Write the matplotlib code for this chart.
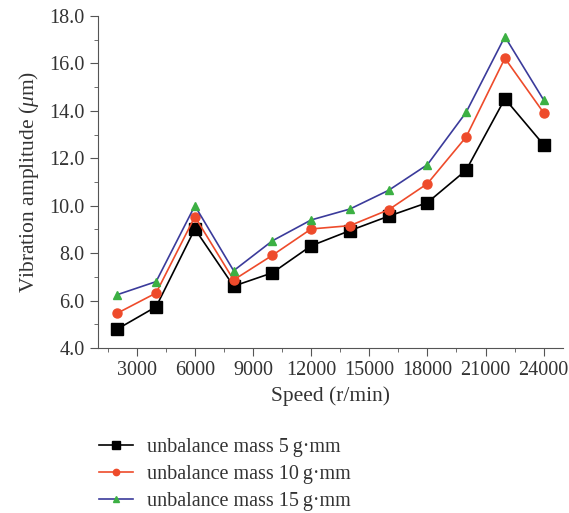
import matplotlib.pyplot as plt
from matplotlib.ticker import MultipleLocator

plt.rcParams['font.family'] = ['Liberation Serif', 'DejaVu Serif']
plt.rcParams['mathtext.fontset'] = 'custom'
plt.rcParams['mathtext.it'] = 'Liberation Serif:italic'
plt.rcParams['mathtext.rm'] = 'Liberation Serif'

speed = [2000, 4000, 6000, 8000, 10000, 12000, 14000, 16000, 18000, 20000, 22000, 24000]
mass_5 = [4.80, 5.74, 9.02, 6.61, 7.17, 8.31, 8.95, 9.56, 10.13, 11.50, 14.51, 12.57]
mass_10 = [5.47, 6.32, 9.54, 6.87, 7.91, 9.02, 9.16, 9.83, 10.93, 12.90, 16.22, 13.92]
mass_15 = [6.25, 6.80, 10.00, 7.26, 8.52, 9.40, 9.86, 10.65, 11.73, 13.94, 17.13, 14.46]
labels = ['unbalance mass 5\u2009g\u00b7mm', 'unbalance mass 10\u2009g\u00b7mm', 'unbalance mass 15\u2009g\u00b7mm']

text_color = '#333333'

fig = plt.figure(figsize=(5.69, 5.13), dpi=100)
ax = fig.add_axes([0.1722, 0.3216, 0.8173, 0.6472])

ax.plot(speed, mass_5, color='black', lw=1.2, marker='s', ms=8.5, label=labels[0])
ax.plot(speed, mass_10, color='#EE4B2B', lw=1.2, marker='o', ms=6.5,
        mfc='#EE4B2B', mec='#EE4B2B', label=labels[1])
ax.plot(speed, mass_15, color='#3B3B9B', lw=1.2, marker='^', ms=6,
        mfc='#3CB043', mec='#3CB043', label=labels[2])

ax.set_xlim(1000, 25000)
ax.set_ylim(4, 18)
ax.xaxis.set_major_locator(MultipleLocator(3000))
ax.xaxis.set_minor_locator(MultipleLocator(1500))
ax.yaxis.set_major_locator(MultipleLocator(2))
ax.yaxis.set_minor_locator(MultipleLocator(1))
ax.yaxis.set_major_formatter(lambda v, p: f'{v:.1f}')

for s in ['top', 'right']:
    ax.spines[s].set_visible(False)
for s in ['left', 'bottom']:
    ax.spines[s].set_color('#555555')

ax.tick_params(which='major', length=6, color='#555555', labelsize=14.5, labelcolor=text_color)
ax.tick_params(which='minor', length=3, color='#555555')

ax.set_xlabel('Speed (r/min)', fontsize=15.5, color=text_color, labelpad=4)
ax.set_ylabel('Vibration amplitude ($\\mu$m)', fontsize=15.5, color=text_color, labelpad=6)

leg = fig.legend(loc='upper left', bbox_to_anchor=(0.142, 0.182), frameon=False,
                 fontsize=14.5, markerscale=0.7, handlelength=1.7, handletextpad=0.7,
                 labelspacing=0.4)
for t in leg.get_texts():
    t.set_color(text_color)

fig.savefig('out.png', dpi=100)
